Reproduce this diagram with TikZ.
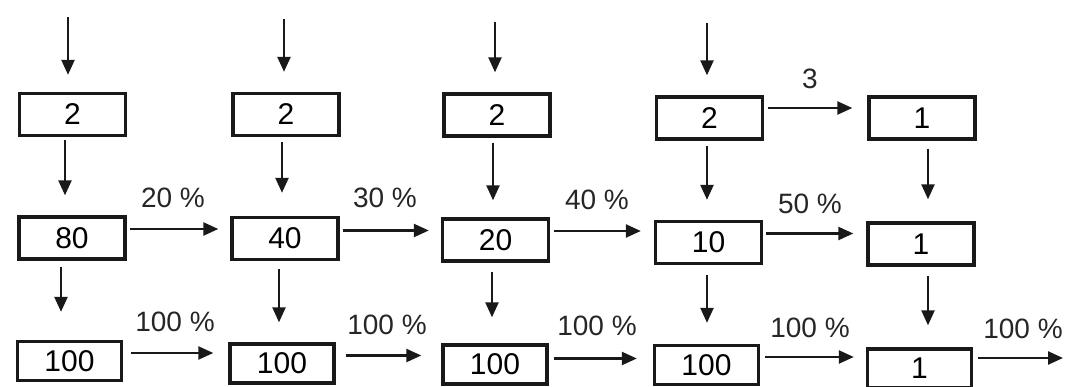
\documentclass[tikz,border=0pt]{standalone}
\usepackage{fontspec}
\setmainfont{Liberation Sans}
\usetikzlibrary{arrows.meta}
\begin{document}
\begin{tikzpicture}[x=1pt,y=-1pt,
  box/.style={draw=black!90, line width=3.4pt, minimum width=106pt, minimum height=42pt, inner sep=0pt, font=\fontsize{30}{32}\selectfont},
  lowbox/.style={box, minimum width=104pt, minimum height=39pt},
  arr/.style={draw=black!90, line width=2.4pt, -{Triangle[length=15pt,width=13pt]}},
  lbl/.style={inner sep=0pt, text=black!85, font=\fontsize{28}{30}\selectfont}]
\useasboundingbox (0,0) rectangle (1066,386);
% boxes
\node[box] (T1) at (72.5,114.5) {2};
\node[box] (T2) at (286,114.5) {2};
\node[box] (T3) at (497,115) {2};
\node[box] (T4) at (709.5,118) {2};
\node[box] (T5) at (922,118) {1};
\node[box] (M1) at (72,238) {80};
\node[box] (M2) at (285,238.5) {40};
\node[box] (M3) at (495.5,240) {20};
\node[box] (M4) at (708.5,242.5) {10};
\node[box] (M5) at (921,244) {1};
\node[lowbox] (B1) at (69.5,361) {100};
\node[lowbox] (B2) at (282,363.5) {100};
\node[lowbox] (B3) at (495,364.5) {100};
\node[lowbox] (B4) at (706.5,365) {100};
\node[lowbox] (B5) at (919.5,368.5) {1};
% input arrows
\coordinate (i1) at (68,17);
\coordinate (i2) at (284,19);
\coordinate (i3) at (495,22);
\coordinate (i4) at (707,23);
\draw[arr, shorten >=17pt] (i1) -- (i1 |- T1.north);
\draw[arr, shorten >=20pt] (i2) -- (i2 |- T2.north);
\draw[arr, shorten >=20pt] (i3) -- (i3 |- T3.north);
\draw[arr, shorten >=20pt] (i4) -- (i4 |- T4.north);
% vertical arrows top -> middle
\draw[arr, shorten >=20pt] ([shift={(-7.5,3)}]T1.south) coordinate (s) -- (s |- M1.north);
\draw[arr, shorten >=23pt] ([shift={(-4,5)}]T2.south) coordinate (s) -- (s |- M2.north);
\draw[arr, shorten >=17pt] ([shift={(-4,5)}]T3.south) coordinate (s) -- (s |- M3.north);
\draw[arr, shorten >=20pt] ([shift={(-2.5,5)}]T4.south) coordinate (s) -- (s |- M4.north);
\draw[arr, shorten >=22pt] ([shift={(6,8)}]T5.south) coordinate (s) -- (s |- M5.north);
% vertical arrows middle -> bottom
\draw[arr, shorten >=28pt] ([shift={(-11,6)}]M1.south) coordinate (s) -- (s |- B1.north);
\draw[arr, shorten >=20pt] ([shift={(-6,8)}]M2.south) coordinate (s) -- (s |- B2.north);
\draw[arr, shorten >=26pt] ([shift={(-3.5,9)}]M3.south) coordinate (s) -- (s |- B3.north);
\draw[arr, shorten >=21pt] ([shift={(-1.5,10)}]M4.south) coordinate (s) -- (s |- B4.north);
\draw[arr, shorten >=22pt] ([shift={(7,9)}]M5.south) coordinate (s) -- (s |- B5.north);
% horizontal arrows
\draw[arr, shorten >=15pt] ([shift={(4,-10)}]T4.east) coordinate (s) -- (s -| T5.west);
\draw[arr, shorten >=12pt] ([shift={(3,-9)}]M1.east) coordinate (s) -- (s -| M2.west);
\draw[arr, shorten >=12pt] ([shift={(3,-8)}]M2.east) coordinate (s) -- (s -| M3.west);
\draw[arr, shorten >=13pt] ([shift={(4,-9)}]M3.east) coordinate (s) -- (s -| M4.west);
\draw[arr, shorten >=13pt] ([shift={(3,-9)}]M4.east) coordinate (s) -- (s -| M5.west);
\draw[arr, shorten >=15pt] ([shift={(8,-8)}]B1.east) coordinate (s) -- (s -| B2.west);
\draw[arr, shorten >=20pt] ([shift={(10,-8)}]B2.east) coordinate (s) -- (s -| B3.west);
\draw[arr, shorten >=16pt] ([shift={(5,-6)}]B3.east) coordinate (s) -- (s -| B4.west);
\draw[arr, shorten >=12pt] ([shift={(5,-8)}]B4.east) coordinate (s) -- (s -| B5.west);
\coordinate (o) at (1063,358);
\draw[arr, shorten <=5pt] (o -| B5.east) -- (o);
% labels
\node[lbl] (l3) at (810,79) {3};
\node[lbl] (l20) at (173,198) {20 \%};
\node[lbl] (l30) at (385,198) {30 \%};
\node[lbl] (l40) at (597,200) {40 \%};
\node[lbl] (l50) at (810,204) {50 \%};
\node[lbl] (p1) at (175,322) {100 \%};
\node[lbl] (p2) at (387,325) {100 \%};
\node[lbl] (p3) at (597,326) {100 \%};
\node[lbl] (p4) at (810,328) {100 \%};
\node[lbl] (p5) at (1023,329) {100 \%};
\end{tikzpicture}
\end{document}
